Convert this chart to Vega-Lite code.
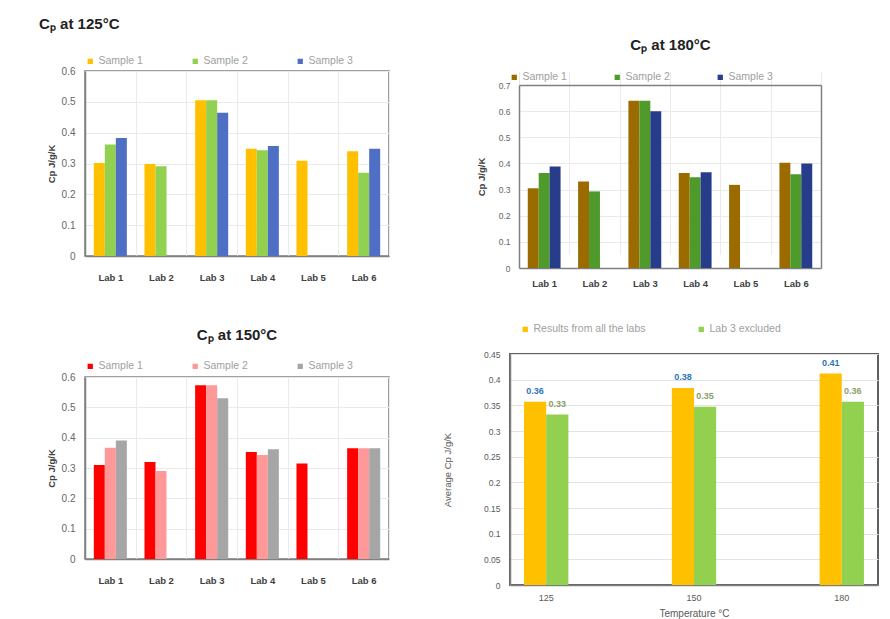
{
  "$schema": "https://vega.github.io/schema/vega-lite/v6.json",
  "padding": {"left": 38, "top": 16, "right": 5, "bottom": 5},
  "background": "white",
  "config": {
    "font": "Liberation Sans",
    "view": {"stroke": "#808080", "strokeWidth": 1.5},
    "axis": {"ticks": false, "domainColor": "#808080", "domainWidth": 1.5, "labelColor": "#666666", "labelFontSize": 8.5, "titleColor": "#404040", "gridColor": "#eaeaea"},
    "legend": {"symbolType": "square", "symbolSize": 28, "labelFontSize": 10.5, "labelColor": "#a0a0a0", "title": null, "padding": 0, "symbolOffset": 0, "labelOffset": 3}
  },
  "datasets": {
    "cp125": [
      {"lab": "Lab 1", "sample": "Sample 1", "cp": 0.302},
      {"lab": "Lab 1", "sample": "Sample 2", "cp": 0.362},
      {"lab": "Lab 1", "sample": "Sample 3", "cp": 0.383},
      {"lab": "Lab 2", "sample": "Sample 1", "cp": 0.298},
      {"lab": "Lab 2", "sample": "Sample 2", "cp": 0.291},
      {"lab": "Lab 3", "sample": "Sample 1", "cp": 0.505},
      {"lab": "Lab 3", "sample": "Sample 2", "cp": 0.505},
      {"lab": "Lab 3", "sample": "Sample 3", "cp": 0.465},
      {"lab": "Lab 4", "sample": "Sample 1", "cp": 0.348},
      {"lab": "Lab 4", "sample": "Sample 2", "cp": 0.343},
      {"lab": "Lab 4", "sample": "Sample 3", "cp": 0.357},
      {"lab": "Lab 5", "sample": "Sample 1", "cp": 0.309},
      {"lab": "Lab 6", "sample": "Sample 1", "cp": 0.340},
      {"lab": "Lab 6", "sample": "Sample 2", "cp": 0.270},
      {"lab": "Lab 6", "sample": "Sample 3", "cp": 0.348}
    ],
    "cp180": [
      {"lab": "Lab 1", "sample": "Sample 1", "cp": 0.305},
      {"lab": "Lab 1", "sample": "Sample 2", "cp": 0.363},
      {"lab": "Lab 1", "sample": "Sample 3", "cp": 0.388},
      {"lab": "Lab 2", "sample": "Sample 1", "cp": 0.331},
      {"lab": "Lab 2", "sample": "Sample 2", "cp": 0.293},
      {"lab": "Lab 3", "sample": "Sample 1", "cp": 0.640},
      {"lab": "Lab 3", "sample": "Sample 2", "cp": 0.640},
      {"lab": "Lab 3", "sample": "Sample 3", "cp": 0.600},
      {"lab": "Lab 4", "sample": "Sample 1", "cp": 0.363},
      {"lab": "Lab 4", "sample": "Sample 2", "cp": 0.347},
      {"lab": "Lab 4", "sample": "Sample 3", "cp": 0.366},
      {"lab": "Lab 5", "sample": "Sample 1", "cp": 0.318},
      {"lab": "Lab 6", "sample": "Sample 1", "cp": 0.403},
      {"lab": "Lab 6", "sample": "Sample 2", "cp": 0.359},
      {"lab": "Lab 6", "sample": "Sample 3", "cp": 0.400}
    ],
    "cp150": [
      {"lab": "Lab 1", "sample": "Sample 1", "cp": 0.310},
      {"lab": "Lab 1", "sample": "Sample 2", "cp": 0.367},
      {"lab": "Lab 1", "sample": "Sample 3", "cp": 0.391},
      {"lab": "Lab 2", "sample": "Sample 1", "cp": 0.320},
      {"lab": "Lab 2", "sample": "Sample 2", "cp": 0.290},
      {"lab": "Lab 3", "sample": "Sample 1", "cp": 0.573},
      {"lab": "Lab 3", "sample": "Sample 2", "cp": 0.573},
      {"lab": "Lab 3", "sample": "Sample 3", "cp": 0.530},
      {"lab": "Lab 4", "sample": "Sample 1", "cp": 0.353},
      {"lab": "Lab 4", "sample": "Sample 2", "cp": 0.343},
      {"lab": "Lab 4", "sample": "Sample 3", "cp": 0.362},
      {"lab": "Lab 5", "sample": "Sample 1", "cp": 0.315},
      {"lab": "Lab 6", "sample": "Sample 1", "cp": 0.365},
      {"lab": "Lab 6", "sample": "Sample 2", "cp": 0.365},
      {"lab": "Lab 6", "sample": "Sample 3", "cp": 0.365}
    ],
    "avg": [
      {"temp": "125", "series": "Results from all the labs", "avg": 0.357},
      {"temp": "125", "series": "Lab 3 excluded", "avg": 0.332},
      {"temp": "150", "series": "Results from all the labs", "avg": 0.384},
      {"temp": "150", "series": "Lab 3 excluded", "avg": 0.347},
      {"temp": "180", "series": "Results from all the labs", "avg": 0.412},
      {"temp": "180", "series": "Lab 3 excluded", "avg": 0.357}
    ]
  },
  "spacing": 51,
  "hconcat": [
    {
      "spacing": 44,
      "vconcat": [
        {
          "width": 304,
          "height": 185,
          "title": {"text": "Cₚ at 125°C", "anchor": "start", "frame": "bounds", "fontSize": 15, "fontWeight": "bold", "color": "#222222", "offset": 24, "dx": -7},
          "data": {"name": "cp125"},
          "mark": {"type": "bar"},
          "encoding": {
            "x": {"field": "lab", "type": "nominal", "scale": {"paddingInner": 0, "paddingOuter": 0},
              "axis": {"title": null, "labelAngle": 0, "labelFontWeight": "bold", "labelFontSize": 9.5, "labelColor": "#404040", "labelPadding": 16, "grid": true, "tickBand": "extent"}},
            "xOffset": {"field": "sample", "type": "nominal", "scale": {"domain": ["Sample 1", "Sample 2", "Sample 3"], "paddingInner": 0, "paddingOuter": 0.8}},
            "y": {"field": "cp", "type": "quantitative", "scale": {"domain": [0, 0.6], "nice": false},
              "axis": {"title": "Cp J/g/K", "titleFontWeight": "bold", "titleFontSize": 9.5, "titlePadding": 5, "values": [0, 0.1, 0.2, 0.3, 0.4, 0.5, 0.6], "format": "~g", "labelPadding": 10, "labelFontSize": 10}},
            "color": {"field": "sample", "type": "nominal",
              "scale": {"domain": ["Sample 1", "Sample 2", "Sample 3"], "range": ["#FFC000", "#92D050", "#4F6FC4"]},
              "legend": {"orient": "top", "direction": "horizontal", "columns": 3, "columnPadding": 47, "offset": 4}}
          }
        },
        {
          "width": 304,
          "height": 182,
          "title": {"text": "Cₚ at 150°C", "anchor": "middle", "fontSize": 15, "fontWeight": "bold", "color": "#222222", "offset": 18},
          "data": {"name": "cp150"},
          "mark": {"type": "bar"},
          "encoding": {
            "x": {"field": "lab", "type": "nominal", "scale": {"paddingInner": 0, "paddingOuter": 0},
              "axis": {"title": null, "labelAngle": 0, "labelFontWeight": "bold", "labelFontSize": 9.5, "labelColor": "#404040", "labelPadding": 16, "grid": true, "tickBand": "extent"}},
            "xOffset": {"field": "sample", "type": "nominal", "scale": {"domain": ["Sample 1", "Sample 2", "Sample 3"], "paddingInner": 0, "paddingOuter": 0.8}},
            "y": {"field": "cp", "type": "quantitative", "scale": {"domain": [0, 0.6], "nice": false},
              "axis": {"title": "Cp J/g/K", "titleFontWeight": "bold", "titleFontSize": 9.5, "titlePadding": 5, "values": [0, 0.1, 0.2, 0.3, 0.4, 0.5, 0.6], "format": "~g", "labelPadding": 10, "labelFontSize": 10}},
            "color": {"field": "sample", "type": "nominal",
              "scale": {"domain": ["Sample 1", "Sample 2", "Sample 3"], "range": ["#FF0000", "#FF9999", "#A6A6A6"]},
              "legend": {"orient": "top", "direction": "horizontal", "columns": 3, "columnPadding": 47, "offset": 5}}
          }
        }
      ],
      "resolve": {"scale": {"color": "independent", "x": "independent", "y": "independent", "xOffset": "independent"}, "legend": {"color": "independent"}}
    },
    {
      "spacing": 35,
      "vconcat": [
        {
          "width": 311,
          "height": 197,
          "view": {"stroke": null},
          "title": {"text": "Cₚ at 180°C", "anchor": "middle", "fontSize": 15, "fontWeight": "bold", "color": "#222222", "offset": 18, "dx": 5},
          "data": {"name": "cp180"},
          "layer": [
            {
              "mark": {"type": "bar"},
              "encoding": {
                "x": {"field": "lab", "type": "nominal", "scale": {"paddingInner": 0, "paddingOuter": 0, "range": [9, 311]},
                  "axis": {"title": null, "labelAngle": 0, "labelFontWeight": "bold", "labelFontSize": 9.5, "labelColor": "#404040", "labelPadding": 10, "grid": true, "tickBand": "extent"}},
                "xOffset": {"field": "sample", "type": "nominal", "scale": {"domain": ["Sample 1", "Sample 2", "Sample 3"], "paddingInner": 0, "paddingOuter": 0.8}},
                "y": {"field": "cp", "type": "quantitative", "scale": {"domain": [0, 0.7], "nice": false, "range": [197, 14]},
                  "axis": {"title": "Cp J/g/K", "titleFontWeight": "bold", "titleFontSize": 9.5, "titlePadding": 12, "values": [0, 0.1, 0.2, 0.3, 0.4, 0.5, 0.6, 0.7], "format": "~g", "labelPadding": 9, "offset": -9,
                    "gridColor": {"condition": {"test": "datum.value >= 0.69", "value": "#808080"}, "value": "#eaeaea"},
                    "gridWidth": {"condition": {"test": "datum.value >= 0.69", "value": 1.5}, "value": 1}}},
                "color": {"field": "sample", "type": "nominal",
                  "scale": {"domain": ["Sample 1", "Sample 2", "Sample 3"], "range": ["#9C6B00", "#4E9A2A", "#283C8C"]},
                  "legend": {"orient": "none", "direction": "horizontal", "columns": 3, "columnPadding": 45, "legendX": -1, "legendY": 1}}
              }
            },
            {
              "mark": {"type": "point", "opacity": 0},
              "encoding": {
                "y": {"field": "cp", "type": "quantitative", "scale": {"domain": [0, 0.7], "nice": false, "range": [197, 14]},
                  "axis": {"orient": "right", "title": null, "labels": false, "grid": false, "ticks": false, "domain": true}}
              }
            }
          ],
          "resolve": {"axis": {"y": "independent"}}
        },
        {
          "width": 368,
          "height": 231,
          "view": {"stroke": "#606060", "strokeWidth": 2},
          "data": {"name": "avg"},
          "layer": [
            {
              "mark": {"type": "bar"},
              "encoding": {
                "x": {"field": "temp", "type": "nominal", "scale": {"paddingInner": 0.7, "paddingOuter": 0.095},
                  "axis": {"title": "Temperature °C", "titleFontWeight": "normal", "titleFontSize": 10, "titleColor": "#595959", "titlePadding": 6, "labelAngle": 0, "labelFontSize": 9, "labelColor": "#595959", "labelPadding": 8, "grid": false}},
                "xOffset": {"field": "series", "type": "nominal", "scale": {"domain": ["Results from all the labs", "Lab 3 excluded"], "paddingInner": 0, "paddingOuter": 0}},
                "y": {"field": "avg", "type": "quantitative", "scale": {"domain": [0, 0.45], "nice": false},
                  "axis": {"title": "Average Cp J/g/K", "titleFontWeight": "normal", "titleFontSize": 9.5, "titleColor": "#595959", "titlePadding": 31, "values": [0, 0.05, 0.1, 0.15, 0.2, 0.25, 0.3, 0.35, 0.4, 0.45], "format": "~g", "labelPadding": 10, "labelColor": "#595959", "labelOverlap": false, "grid": true, "gridColor": "#e3e3e3"}},
                "color": {"field": "series", "type": "nominal",
                  "scale": {"domain": ["Results from all the labs", "Lab 3 excluded"], "range": ["#FFC000", "#92D050"]},
                  "legend": {"orient": "none", "direction": "horizontal", "columns": 2, "columnPadding": 50, "legendX": 10, "legendY": -30}}
              }
            },
            {
              "mark": {"type": "text", "baseline": "bottom", "dy": -6, "fontSize": 9, "fontWeight": "bold"},
              "encoding": {
                "x": {"field": "temp", "type": "nominal", "axis": {"title": "Temperature °C", "titleFontWeight": "normal", "titleFontSize": 10, "titleColor": "#595959", "titlePadding": 6, "labelAngle": 0, "labelFontSize": 9, "labelColor": "#595959", "labelPadding": 8, "grid": false}},
                "xOffset": {"field": "series", "type": "nominal"},
                "y": {"field": "avg", "type": "quantitative",
                  "axis": {"title": "Average Cp J/g/K", "titleFontWeight": "normal", "titleFontSize": 9.5, "titleColor": "#595959", "titlePadding": 31, "values": [0, 0.05, 0.1, 0.15, 0.2, 0.25, 0.3, 0.35, 0.4, 0.45], "format": "~g", "labelPadding": 10, "labelColor": "#595959", "labelOverlap": false, "grid": true, "gridColor": "#e3e3e3"}},
                "text": {"field": "avg", "type": "quantitative", "format": ".2f"},
                "color": {"condition": {"test": "datum.series === 'Results from all the labs'", "value": "#2E75B6"}, "value": "#8AA06A"}
              }
            }
          ]
        }
      ],
      "resolve": {"scale": {"color": "independent", "x": "independent", "y": "independent", "xOffset": "independent"}, "legend": {"color": "independent"}}
    }
  ],
  "resolve": {"scale": {"color": "independent", "x": "independent", "y": "independent", "xOffset": "independent"}, "legend": {"color": "independent"}}
}
